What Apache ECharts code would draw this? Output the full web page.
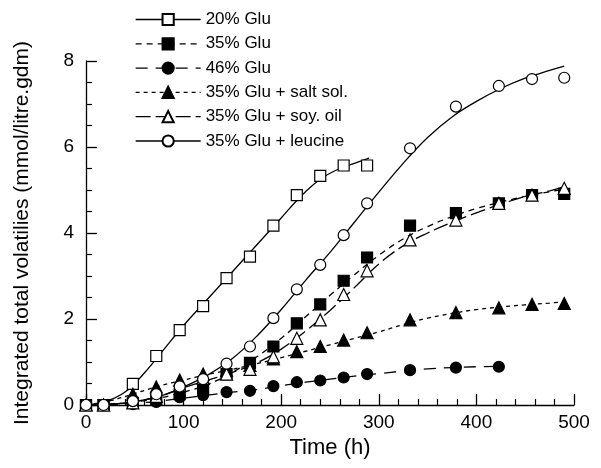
<!DOCTYPE html>
<html>
<head>
    <meta charset="utf-8">
    <title>Integrated total volatiles</title>
    <script src="https://cdn.jsdelivr.net/npm/echarts@6/dist/echarts.min.js"></script>
</head>
<body style="margin:0">
    <div id="main" style="width: 601px;height:468px;"></div>
    <script type="text/javascript">
        // sampling times (h)
        var t20 = [0, 18, 48, 72, 96, 120, 144, 168, 192, 216, 240, 264, 288];
        var tLong = [0, 18, 48, 72, 96, 120, 144, 168, 192, 216, 240, 264, 288, 332, 379, 423, 457, 490];
        var t46 = [0, 18, 48, 72, 96, 120, 144, 168, 192, 216, 240, 264, 288, 332, 379, 423];

        // measured points
        var glu20 = [0, 0, 0.49, 1.14, 1.74, 2.30, 2.95, 3.45, 4.17, 4.88, 5.33, 5.57, 5.57];
        var glu35 = [0, 0, 0.05, 0.12, 0.25, 0.38, 0.72, 0.98, 1.36, 1.90, 2.34, 2.89, 3.43, 4.17, 4.46, 4.69, 4.88, 4.91];
        var glu46 = [0, 0, 0.02, 0.07, 0.18, 0.23, 0.30, 0.33, 0.44, 0.53, 0.57, 0.64, 0.72, 0.81, 0.87, 0.89];
        var salt = [0, 0, 0.25, 0.42, 0.58, 0.72, 0.80, 0.92, 1.07, 1.24, 1.36, 1.51, 1.68, 1.98, 2.15, 2.26, 2.34, 2.36];
        var soy = [0, 0, 0.05, 0.20, 0.45, 0.62, 0.72, 0.83, 1.12, 1.55, 1.98, 2.57, 3.12, 3.84, 4.30, 4.69, 4.88, 5.04];
        var leucine = [0, 0, 0.09, 0.25, 0.43, 0.60, 0.96, 1.36, 2.02, 2.69, 3.26, 3.95, 4.69, 5.97, 6.94, 7.42, 7.58, 7.61];

        // fitted curves
        var fitT20 = [0, 20, 40, 60, 80, 100, 120, 140, 160, 180, 200, 220, 240, 260, 275, 290];
        var fit20 = [0, 0.08, 0.3, 0.75, 1.3, 1.85, 2.35, 2.85, 3.35, 3.85, 4.35, 4.85, 5.25, 5.5, 5.62, 5.74];
        var fitT = [0, 25, 50, 75, 100, 125, 150, 175, 200, 225, 250, 275, 300, 325, 350, 375, 400, 425, 450, 475, 490];
        var fit35 = [0, 0.02, 0.07, 0.16, 0.3, 0.48, 0.76, 1.12, 1.55, 2.05, 2.55, 3.03, 3.48, 3.86, 4.15, 4.38, 4.57, 4.72, 4.85, 4.96, 5.02];
        var fitSalt = [0, 0.1, 0.27, 0.44, 0.58, 0.71, 0.83, 0.96, 1.1, 1.25, 1.4, 1.55, 1.7, 1.87, 2.02, 2.13, 2.22, 2.28, 2.33, 2.37, 2.4];
        var fitSoy = [0, 0.02, 0.08, 0.2, 0.4, 0.58, 0.76, 0.98, 1.3, 1.72, 2.2, 2.73, 3.28, 3.7, 4.0, 4.25, 4.47, 4.67, 4.85, 4.98, 5.08];
        var fitLeu = [0, 0.02, 0.08, 0.2, 0.42, 0.7, 1.08, 1.6, 2.22, 2.9, 3.55, 4.25, 4.95, 5.62, 6.22, 6.7, 7.06, 7.36, 7.6, 7.78, 7.88];
        var fitT46 = [0, 25, 50, 75, 100, 125, 150, 175, 200, 225, 250, 275, 300, 325, 350, 375, 400, 425];
        var fit46 = [0, 0.01, 0.04, 0.09, 0.16, 0.23, 0.3, 0.36, 0.45, 0.53, 0.6, 0.67, 0.73, 0.79, 0.84, 0.87, 0.89, 0.9];

        var font = 'Liberation Sans, Arial, sans-serif';

        function pairs(xs, ys) {
            return xs.map(function (x, i) { return [x, ys[i]]; });
        }

        // one entry per treatment: name, points, curve, marker, dash
        var sets = [
            { name: '20% Glu', t: t20, y: glu20, ft: fitT20, fy: fit20, symbol: 'rect', fill: '#fff', dash: 'solid' },
            { name: '35% Glu', t: tLong, y: glu35, ft: fitT, fy: fit35, symbol: 'rect', fill: '#000', dash: [6, 5] },
            { name: '46% Glu', t: t46, y: glu46, ft: fitT46, fy: fit46, symbol: 'circle', fill: '#000', dash: [12, 8] },
            { name: '35% Glu + salt sol.', t: tLong, y: salt, ft: fitT, fy: fitSalt, symbol: 'triangle', fill: '#000', dash: [4, 4] },
            { name: '35% Glu + soy. oil', t: tLong, y: soy, ft: fitT, fy: fitSoy, symbol: 'triangle', fill: '#fff', dash: [15, 5] },
            { name: '35% Glu + leucine', t: tLong, y: leucine, ft: fitT, fy: fitLeu, symbol: 'circle', fill: '#fff', dash: 'solid' }
        ];

        var series = [];
        var legendData = [];
        sets.forEach(function (s) {
            // curve
            series.push({
                type: 'line',
                data: pairs(s.ft, s.fy),
                smooth: 0.4,
                showSymbol: false,
                silent: true,
                z: 2,
                lineStyle: { color: '#000', width: 1.3, type: s.dash }
            });
            // points
            series.push({
                name: s.name,
                type: 'line',
                data: pairs(s.t, s.y),
                symbol: s.symbol,
                symbolSize: s.symbol === 'triangle' ? 12 : 11,
                clip: false,
                z: 3,
                lineStyle: { width: 0, opacity: 0 },
                itemStyle: { color: s.fill, borderColor: '#000', borderWidth: 1.2, opacity: 1 }
            });
            legendData.push({
                name: s.name,
                lineStyle: { color: '#000', width: 1.3, type: s.dash, opacity: 1 }
            });
        });

        var myChart = echarts.init(document.getElementById('main'));
        myChart.setOption({
            animation: false,
            backgroundColor: '#fff',
            grid: { left: 86, right: 27, top: 61, bottom: 63 },
            legend: {
                data: legendData,
                orient: 'vertical',
                left: 135,
                top: 11,
                padding: 0,
                itemWidth: 65,
                itemHeight: 14,
                itemGap: 7.3,
                selectedMode: false,
                textStyle: { fontFamily: font, fontSize: 17, color: '#000' }
            },
            xAxis: {
                type: 'value',
                min: 0,
                max: 500,
                interval: 100,
                name: 'Time (h)',
                nameLocation: 'middle',
                nameGap: 22,
                nameTextStyle: { fontFamily: font, fontSize: 22, color: '#000' },
                axisLine: { lineStyle: { color: '#000', width: 1.3 } },
                axisTick: { inside: true, length: 11, lineStyle: { color: '#000', width: 1.3 } },
                minorTick: { show: true, splitNumber: 5, length: 6, lineStyle: { color: '#000', width: 1.2 } },
                axisLabel: { fontFamily: font, fontSize: 19, color: '#000', margin: 8 },
                splitLine: { show: false }
            },
            yAxis: {
                type: 'value',
                min: 0,
                max: 8,
                interval: 2,
                name: 'Integrated total volatilies (mmol/litre.gdm)',
                nameLocation: 'middle',
                nameGap: 53,
                nameTextStyle: { fontFamily: font, fontSize: 21, color: '#000' },
                axisLine: { lineStyle: { color: '#000', width: 1.3 } },
                axisTick: { inside: true, length: 11, lineStyle: { color: '#000', width: 1.3 } },
                minorTick: { show: true, splitNumber: 4, length: 6, lineStyle: { color: '#000', width: 1.2 } },
                axisLabel: { fontFamily: font, fontSize: 19, color: '#000', margin: 12 },
                splitLine: { show: false }
            },
            series: series
        });
    </script>
</body>
</html>
